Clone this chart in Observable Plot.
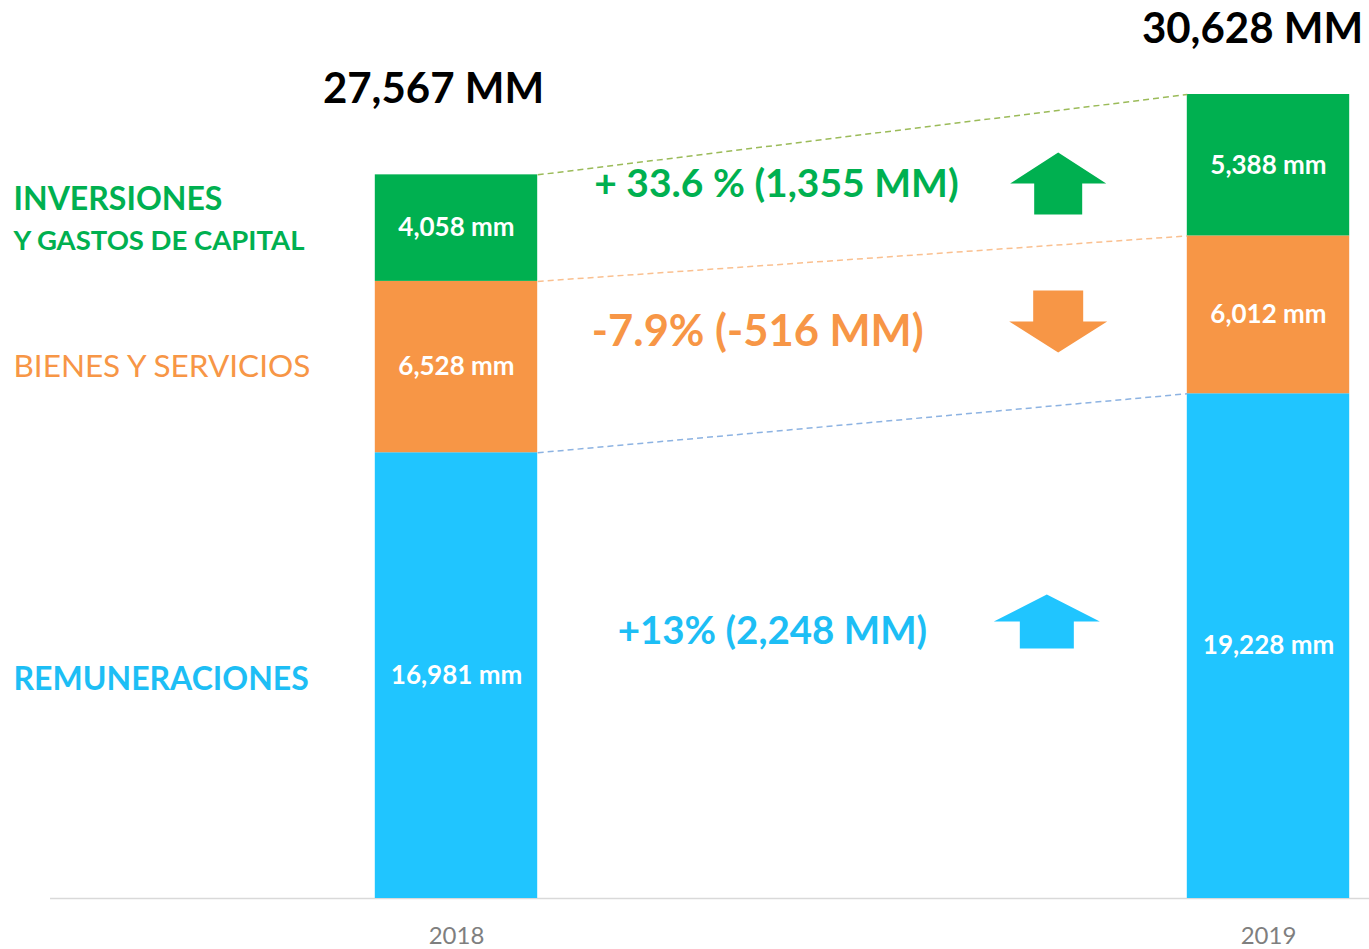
<!DOCTYPE html>
<html><head><meta charset="utf-8">
<script src="https://cdn.jsdelivr.net/npm/d3@7"></script>
<script src="https://cdn.jsdelivr.net/npm/@observablehq/plot@0.6"></script>
<style>body{margin:0;background:#fff;overflow:hidden}</style>
</head><body><div id="chart"></div>
<script>
// ---- data ----
const years = [2018, 2019];
const categories = ["Remuneraciones", "Bienes y servicios", "Inversiones y gastos de capital"];
const values2018 = [16981, 6528, 4058];
const values2019 = [19228, 6012, 5388];
const totalLabels = ["27,567 MM", "30,628 MM"];
const segmentLabels2018 = ["16,981 mm", "6,528 mm", "4,058 mm"];
const segmentLabels2019 = ["19,228 mm", "6,012 mm", "5,388 mm"];
const changeLabels = ["+13% (2,248 MM)", "-7.9% (-516 MM)", "+ 33.6 % (1,355 MM)"];
const changeDirection = ["up", "down", "up"];
const categoryLabels = ["REMUNERACIONES", "BIENES Y SERVICIOS", "INVERSIONES", "Y GASTOS DE CAPITAL"];
const colors = ["#20C5FF", "#F79646", "#00B050"];
const textColors = ["#1DBEF5", "#F79646", "#00B050"];
const linkColors = ["#8DB3E2", "#FAC090", "#9BBB59"];

// ---- stacked rows ----
function stack(year, values, labels) {
  let acc = 0;
  return values.map((v, i) => {
    const r = {year, category: categories[i], i, value: v, y1: acc, y2: acc + v, label: labels[i]};
    acc += v;
    return r;
  });
}
const rows = [...stack(2018, values2018, segmentLabels2018), ...stack(2019, values2019, segmentLabels2019)];
const r18 = rows.filter(d => d.year === 2018);
const r19 = rows.filter(d => d.year === 2019);
const links = r18.map((d, i) => ({i, a: d.y2, b: r19[i].y2}));
const totals = [d3.sum(values2018), d3.sum(values2019)];

function arrow(dir, hw, sw, hh) {
  const s = dir === "up" ? 1 : -1;
  return {draw(ctx) {
    ctx.moveTo(0, -hh * s);
    ctx.lineTo(hw, 0);
    ctx.lineTo(sw, 0);
    ctx.lineTo(sw, hh * s);
    ctx.lineTo(-sw, hh * s);
    ctx.lineTo(-sw, 0);
    ctx.lineTo(-hw, 0);
    ctx.closePath();
  }};
}

const half = 0.1;
const mid = r => (r.y1 + r.y2) / 2;

const chart = Plot.plot({
  width: 1369, height: 949,
  marginLeft: 50, marginRight: 0, marginTop: 0, marginBottom: 51,
  style: {fontFamily: "Lato, 'Open Sans', sans-serif", background: "#fff"},
  x: {type: "linear", domain: [2018, 2019], range: [456, 1268], axis: null},
  y: {domain: [0, 30628], range: [898, 94], axis: null},
  color: {domain: categories, range: colors},
  marks: [
    Plot.ruleY([0], {stroke: "#d9d9d9", strokeWidth: 1.5}),
    Plot.rect(rows, {x1: d => d.year - half, x2: d => d.year + half, y1: "y1", y2: "y2", fill: "category"}),
    Plot.link(links, {x1: 2018 + half, x2: 2019 - half, y1: "a", y2: "b",
      stroke: d => linkColors[d.i], strokeWidth: 1.5, strokeDasharray: "6,4"}),
    // segment labels
    Plot.text(rows, {x: "year", y: mid, text: "label", fill: "white", fontSize: 26, fontWeight: "bold"}),
    // totals
    Plot.text([totals[0]], {x: 2018, y: d => d, text: [totalLabels[0]], dx: -23, dy: -85, fontSize: 42, fontWeight: "bold", fill: "black"}),
    Plot.text([totals[1]], {x: 2019, y: d => d, text: [totalLabels[1]], dx: -16, dy: -65, fontSize: 42, fontWeight: "bold", fill: "black"}),
    // x labels
    Plot.text(years, {x: d => d, y: 0, dy: 38, text: d => String(d), fontSize: 24, fill: "#7f7f7f"}),
    // category labels on the left
    Plot.text([r18[0]], {frameAnchor: "left", y: mid, text: [categoryLabels[0]], textAnchor: "start", dx: -37, dy: 4, fontSize: 32, fontWeight: "bold", fill: textColors[0]}),
    Plot.text([r18[1]], {frameAnchor: "left", y: mid, text: [categoryLabels[1]], textAnchor: "start", dx: -37, fontSize: 31.5, fill: textColors[1]}),
    Plot.text([r18[2]], {frameAnchor: "left", y: mid, text: [categoryLabels[2]], textAnchor: "start", dx: -37, dy: -28, fontSize: 32, fontWeight: "bold", fill: textColors[2]}),
    Plot.text([r18[2]], {frameAnchor: "left", y: mid, text: [categoryLabels[3]], textAnchor: "start", dx: -37, dy: 13, fontSize: 27.5, fontWeight: "bold", fill: textColors[2]}),
    // change annotations
    Plot.text([0], {x: 2018.389, y: 10170, text: [changeLabels[0]], fill: textColors[0], fontSize: 38.5, fontWeight: "bold"}),
    Plot.text([1], {x: 2018.371, y: 21560, text: [changeLabels[1]], fill: textColors[1], fontSize: 43.5, fontWeight: "bold"}),
    Plot.text([2], {x: 2018.394, y: 27200, text: [changeLabels[2]], fill: textColors[2], fontSize: 39, fontWeight: "bold"}),
    Plot.dot([0], {x: 2018.727, y: 10170, symbol: arrow(changeDirection[0], 53, 27, 27), fill: colors[0], stroke: null, dy: -10}),
    Plot.dot([1], {x: 2018.741, y: 21560, symbol: arrow(changeDirection[1], 49, 25, 31), fill: colors[1], stroke: null, dy: -11}),
    Plot.dot([2], {x: 2018.741, y: 27200, symbol: arrow(changeDirection[2], 48, 24, 31), fill: colors[2], stroke: null, dy: -1})
  ]
});
document.getElementById("chart").appendChild(chart);
</script>
</body></html>
